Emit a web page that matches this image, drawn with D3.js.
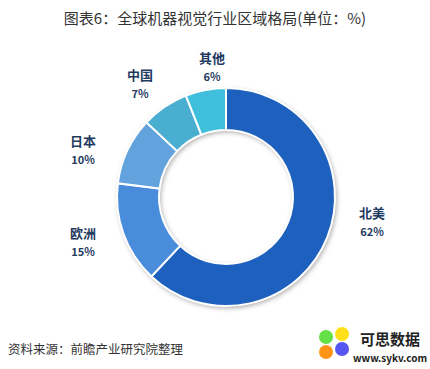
<!DOCTYPE html>
<html><head><meta charset="utf-8">
<script src="https://cdn.jsdelivr.net/npm/d3@7/dist/d3.min.js"></script>
<style>
html,body{margin:0;padding:0;background:#fff;}
svg{display:block;font-family:"Microsoft YaHei","Noto Sans CJK SC",sans-serif;}
</style></head>
<body>
<svg id="c" width="430" height="369"></svg>
<script>
const categories = ["北美", "欧洲", "日本", "中国", "其他"];
const values = [62, 15, 10, 7, 6];
const colors = ["#1e60be", "#4a8cdc", "#62a3de", "#4aaed0", "#40bfdd"];
const labelPos = [[372, 218], [83, 238], [83, 146], [140, 80], [212, 63]];

const svg = d3.select("#c");
const defs = svg.append("defs");
const f = defs.append("filter").attr("id","sh").attr("x","-20%").attr("y","-20%").attr("width","140%").attr("height","140%");
f.append("feDropShadow").attr("dx",1.5).attr("dy",2).attr("stdDeviation",2.5).attr("flood-color","#000").attr("flood-opacity",0.35);

svg.append("text").attr("x",215).attr("y",24).attr("text-anchor","middle")
  .attr("font-size",15).attr("fill","#333").text("图表6：全球机器视觉行业区域格局(单位：%)");

const cx = 226, cy = 197, rOut = 109, rIn = 67;
const pie = d3.pie().sort(null).value(d => d)(values);
const arc = d3.arc().innerRadius(rIn).outerRadius(rOut);
const g = svg.append("g").attr("transform",`translate(${cx},${cy})`);
// shadow ring
g.append("path").attr("d", d3.arc().innerRadius(rIn).outerRadius(rOut).startAngle(0).endAngle(2*Math.PI)())
  .attr("fill","#fff").attr("filter","url(#sh)");
g.selectAll("path.s").data(pie).join("path").attr("class","s")
  .attr("d", arc).attr("fill",(d,i)=>colors[i]).attr("stroke","#fff").attr("stroke-width",2);

const lg = svg.append("g");
categories.forEach((c,i)=>{
  lg.append("text").attr("x",labelPos[i][0]).attr("y",labelPos[i][1]).attr("text-anchor","middle")
    .attr("font-size",13).attr("font-weight","bold").attr("fill","#1f3a5f").text(c);
  lg.append("text").attr("x",labelPos[i][0]).attr("y",labelPos[i][1]+18).attr("text-anchor","middle")
    .attr("font-size",11).attr("font-weight","bold").attr("fill","#1f3a5f").text(values[i]+"%");
});

svg.append("text").attr("x",8).attr("y",354).attr("font-size",12.5).attr("fill","#333")
  .text("资料来源：前瞻产业研究院整理");

// watermark logo
const w = svg.append("g");
[[326,337,"#55dd33"],[342,334,"#ffdd00"],[326,352,"#ff8800"],[342,349,"#4444ee"]].forEach(p=>{
  w.append("circle").attr("cx",p[0]).attr("cy",p[1]).attr("r",7).attr("fill",p[2]).attr("opacity",0.9);
});
w.append("text").attr("x",390).attr("y",345).attr("text-anchor","middle").attr("font-size",15)
  .attr("font-weight","bold").attr("fill","#222").text("可思数据");
w.append("text").attr("x",390).attr("y",362).attr("text-anchor","middle").attr("font-size",10)
  .attr("font-weight","bold").attr("fill","#222").text("www.sykv.com");
</script>
</body></html>
